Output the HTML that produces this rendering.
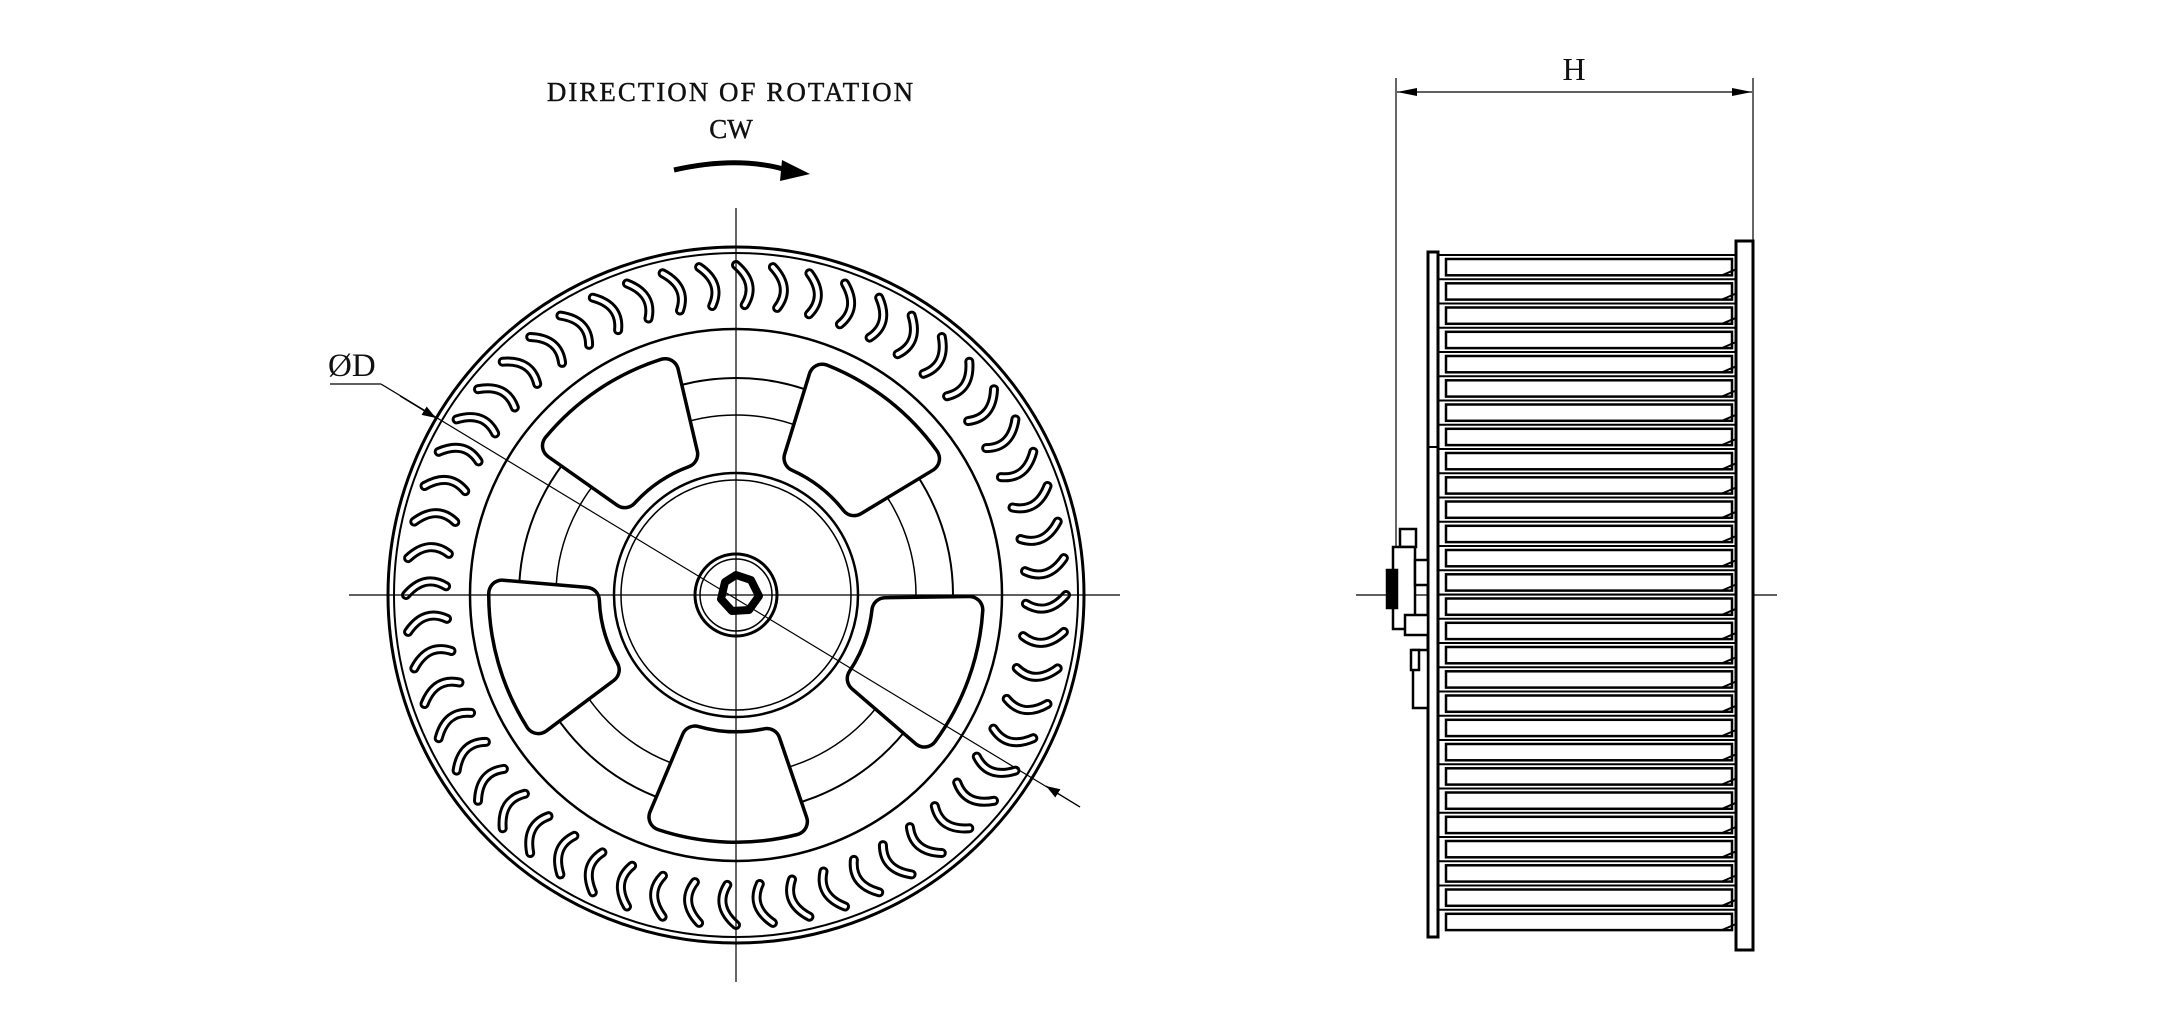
<!DOCTYPE html>
<html><head><meta charset="utf-8">
<style>
html,body{margin:0;padding:0;background:#fff;}
svg{display:block;}
text{font-family:"Liberation Serif",serif;fill:#111;}
</style></head>
<body>
<svg id="s" width="2174" height="1036" viewBox="0 0 2174 1036" xmlns="http://www.w3.org/2000/svg">
<defs>
<marker id="ah" viewBox="0 0 10 10" refX="10" refY="5" markerWidth="14" markerHeight="14" markerUnits="userSpaceOnUse" orient="auto"><path d="M0,1.5 L10,5 L0,8.5 Z" fill="#000"/></marker>
</defs>
<text x="731" y="101" font-size="27" text-anchor="middle" letter-spacing="2" stroke="#111" stroke-width="0.4">DIRECTION OF ROTATION</text>
<text x="731" y="138" font-size="27" text-anchor="middle" stroke="#111" stroke-width="0.4">CW</text>
<path d="M674,170 Q740,155 790,171" stroke="#000" stroke-width="5" fill="none"/>
<path d="M782,160 L810,174 L780,181 Z" fill="#000"/>

<g id="front" fill="none" stroke="#000">
<circle cx="736" cy="595" r="348" stroke-width="3"/>
<circle cx="736" cy="595" r="342" stroke-width="2"/>
<circle cx="736" cy="595" r="266" stroke-width="2.5"/>
<circle cx="736" cy="595" r="217" stroke-width="2"/>
<circle cx="736" cy="595" r="180" stroke-width="1.5"/>
<circle cx="736" cy="595" r="122" stroke-width="2.5"/>
<circle cx="736" cy="595" r="115" stroke-width="1.5"/>
<circle cx="736" cy="595" r="41" stroke-width="3"/>
<circle cx="736" cy="595" r="36" stroke-width="1.5"/>
</g>
<g id="blades"></g>
<g id="vanes"></g>
<path d="M736,575 l15,5 l8,16 l-10,14 l-17,1 l-11,-12 l4,-17 z" fill="none" stroke="#000" stroke-width="8" stroke-linejoin="round"/>

<line x1="736" y1="208" x2="736" y2="982" stroke="#000" stroke-width="1.2"/>
<line x1="349" y1="595" x2="1120" y2="595" stroke="#000" stroke-width="1.2"/>
<text x="328" y="376" font-size="33">ØD</text>
<line x1="330" y1="384" x2="381" y2="384" stroke="#000" stroke-width="1.2"/>
<line x1="381" y1="384" x2="1080" y2="807" stroke="#000" stroke-width="1.2"/>
<line x1="400" y1="396" x2="436" y2="418" stroke="#000" stroke-width="1.2" marker-end="url(#ah)"/>
<line x1="1080" y1="807" x2="1046" y2="786" stroke="#000" stroke-width="1.2" marker-end="url(#ah)"/>

<!-- side view -->
<text x="1574" y="80" font-size="32" text-anchor="middle">H</text>
<line x1="1396" y1="78" x2="1396" y2="598" stroke="#000" stroke-width="1.2"/>
<line x1="1753" y1="78" x2="1753" y2="243" stroke="#000" stroke-width="1.2"/>
<line x1="1397" y1="92" x2="1752" y2="92" stroke="#000" stroke-width="1.2"/>
<path d="M1397,92 l20,-4 l0,8 z M1752,92 l-20,-4 l0,8 z" fill="#000"/>
<line x1="1356" y1="595" x2="1777" y2="595" stroke="#000" stroke-width="1.2"/>
<g id="side" fill="none" stroke="#000"></g>
<rect x="1428" y="252" width="10" height="685" fill="#fff" stroke="#000" stroke-width="3"/>
<rect x="1736" y="241" width="17" height="709" fill="#fff" stroke="#000" stroke-width="3"/>
<line x1="1428" y1="447" x2="1438" y2="447" stroke="#000" stroke-width="2"/>
<g fill="#fff" stroke="#000" stroke-width="2.5">
<rect x="1400" y="529" width="16" height="18"/>
<rect x="1393" y="547" width="22" height="82"/>
<rect x="1387" y="570" width="10" height="38" fill="#000"/>
<rect x="1415" y="560" width="13" height="25"/>
<rect x="1405" y="615" width="23" height="20"/>
<rect x="1413" y="650" width="15" height="58"/>
<rect x="1411" y="650" width="8" height="20"/>
</g>
</svg>
<script>
(function(){
var NS="http://www.w3.org/2000/svg",cx=736,cy=595;
function el(t,a,p){var e=document.createElementNS(NS,t);for(var k in a)e.setAttribute(k,a[k]);p.appendChild(e);return e;}
function P(r,a){return [cx+r*Math.cos(a),cy+r*Math.sin(a)];}
var b=document.getElementById('blades');
var N=56;
for(var i=0;i<N;i++){
 var a=i*2*Math.PI/N;
 var p1=P(330,a),p2=P(312,a+0.07),p3=P(290,a+0.03);
 var d="M"+p1[0].toFixed(1)+","+p1[1].toFixed(1)+" Q"+p2[0].toFixed(1)+","+p2[1].toFixed(1)+" "+p3[0].toFixed(1)+","+p3[1].toFixed(1);
 el('path',{d:d,stroke:'#000','stroke-width':10,fill:'none','stroke-linecap':'round'},b);
 el('path',{d:d,stroke:'#fff','stroke-width':4,fill:'none','stroke-linecap':'round'},b);
}
var v=document.getElementById('vanes');
var angs=[-124,-52,20,92,164];
angs.forEach(function(g){
 var t=g*Math.PI/180,ri=150,ro=234;
 var hi=Math.asin(36/ri),ho=Math.asin(66/ro);
 var A=P(ri,t-hi),B=P(ro,t-ho),C=P(ro,t+ho),D=P(ri,t+hi);
 var d="M"+A+" L"+B+" A"+ro+","+ro+" 0 0 1 "+C+" L"+D+" A"+ri+","+ri+" 0 0 0 "+A+" Z";
 el('path',{d:d,fill:'#000',stroke:'#000','stroke-width':30,'stroke-linejoin':'round'},v);
 el('path',{d:d,fill:'#fff',stroke:'#fff','stroke-width':23,'stroke-linejoin':'round'},v);
});
var s=document.getElementById('side');
var y0=255,n=28,sp=(934-y0)/n;
for(var j=0;j<n;j++){
 var y=y0+j*sp;
 el('rect',{x:1446,y:(y+4).toFixed(1),width:286,height:(sp-8).toFixed(1),'stroke-width':2.5},s);
 el('line',{x1:1438,y1:y.toFixed(1),x2:1736,y2:y.toFixed(1),'stroke-width':2},s);
 el('path',{d:"M1722,"+(y+sp-4).toFixed(1)+" l14,-6",'stroke-width':2},s);
}
})();
</script>
</body></html>
